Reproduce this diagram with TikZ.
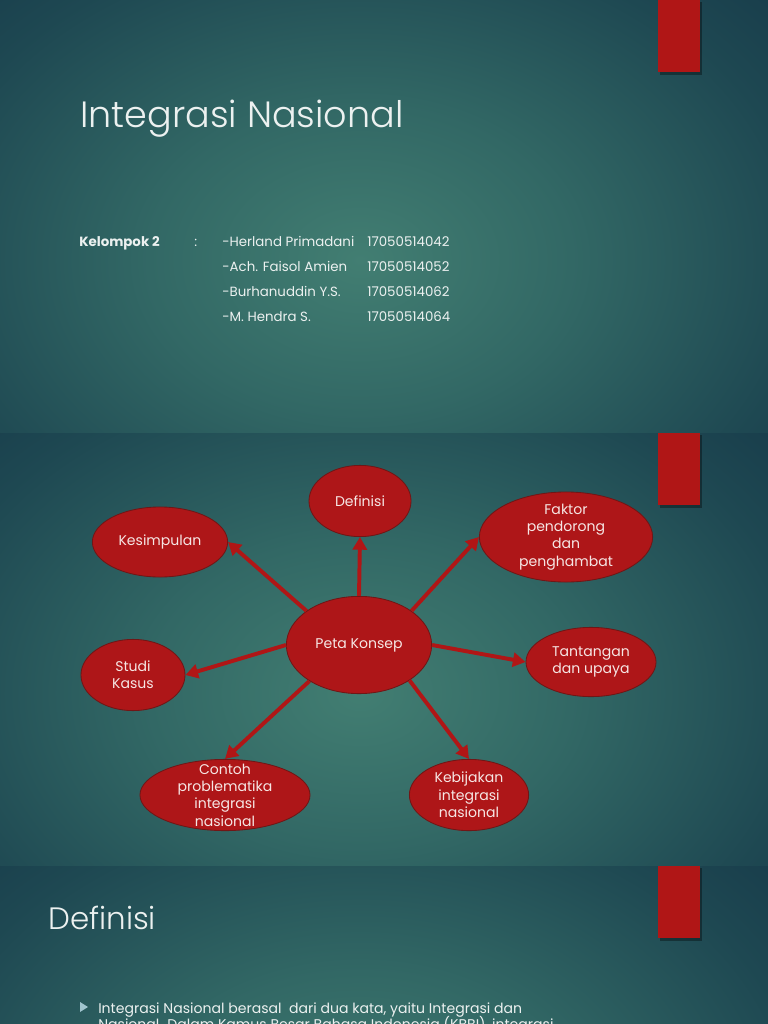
\documentclass[tikz,border=0pt]{standalone}
\usepackage{fontspec}
\setmainfont{Poppins}
\newfontfamily\lightfont{Poppins Light}
\usetikzlibrary{arrows.meta,shapes.geometric}

\definecolor{glowin}{RGB}{66,126,114}
\definecolor{glowa}{RGB}{50,104,101}
\definecolor{glowb}{RGB}{30,72,82}
\definecolor{glowout}{RGB}{19,51,69}
\definecolor{barred}{RGB}{176,22,22}
\definecolor{bubblered}{RGB}{174,22,24}
\definecolor{bubbleedge}{RGB}{112,22,22}
\definecolor{bubbletext}{RGB}{246,230,228}
\definecolor{slidetext}{RGB}{236,241,240}
\definecolor{bulletblue}{RGB}{160,196,206}

\pgfdeclareradialshading{slideglow}{\pgfpointorigin}{color(0bp)=(glowin); color(8bp)=(glowa); color(17bp)=(glowb); color(25bp)=(glowout); color(50bp)=(glowout)}

\begin{document}
\begin{tikzpicture}[x=0.025cm,y=-0.025cm,
  bubble/.style={ellipse,draw=bubbleedge,fill=bubblered,line width=0.6pt,inner sep=0pt},
  inbubble/.style={text=bubbletext,align=center,font=\fontsize{10}{12.3}\selectfont},
  link/.style={draw=barred,line width=2.8pt,-{Triangle[length=9pt,width=10pt]}},
  slidetitle/.style={anchor=base west,text=slidetext,inner sep=0pt},
  slidebody/.style={anchor=base west,text=slidetext,inner sep=0pt,font=\fontsize{9.5}{11}\selectfont}]
  \useasboundingbox (0,0) rectangle (768,1024);
  \clip (0,0) rectangle (768,1024);

  % three slides, one below the other
  \foreach \t in {0,433,866} {
    \fill[glowout] (0,\t) rectangle (768,\t+433);
    \begin{scope}
      \clip (0,\t) rectangle (768,\t+433);
      \shade[shading=slideglow] (360,\t+260) ellipse (660 and 480);
    \end{scope}
    \fill[black,opacity=0.35] (660,\t+2) rectangle (702,\t+75);
    \fill[barred] (658,\t) rectangle (700,\t+72);
  }

  % slide 1
  \node[slidetitle,font=\lightfont\fontsize{26}{30}\selectfont] (judul) at (80,128) {Integrasi Nasional};
  \node[slidebody,font=\bfseries\fontsize{9.5}{11}\selectfont] (kelompok) at (79,246.5) {Kelompok 2};
  \node[slidebody] (titikdua) at (194,246.5) {:};
  \foreach \nama/\nim [count=\i] in {-Herland Primadani/17050514042,
      -Ach. Faisol Amien/17050514052,
      -Burhanuddin Y.S./17050514062,
      -M. Hendra S./17050514064} {
    \node[slidebody] (nama\i) at (222,221.5+25*\i) {\nama};
    \node[slidebody] (nim\i) at (367,221.5+25*\i) {\nim};
  }

  % slide 2: peta konsep
  \node[bubble,minimum width=3.63cm,minimum height=2.43cm,
    label={[inbubble]center:Peta Konsep}] (peta) at (359,645) {};
  \node[bubble,minimum width=2.55cm,minimum height=1.78cm,
    label={[inbubble]center:Definisi}] (definisi) at (360,501) {};
  \node[bubble,minimum width=3.38cm,minimum height=1.75cm,
    label={[inbubble]center:Kesimpulan}] (kesimpulan) at (160,542) {};
  \node[bubble,minimum width=4.33cm,minimum height=2.25cm,
    label={[inbubble]center:{Faktor\\pendorong\\dan\\penghambat}}] (faktor) at (566,537) {};
  \node[bubble,minimum width=3.25cm,minimum height=1.73cm,
    label={[inbubble]center:{Tantangan\\dan upaya}}] (tantangan) at (591,662) {};
  \node[bubble,minimum width=2.6cm,minimum height=1.78cm,
    label={[inbubble]center:{Studi\\Kasus}}] (studi) at (133,675) {};
  \node[bubble,minimum width=4.25cm,minimum height=1.78cm,
    label={[inbubble]center:{Contoh\\problematika\\integrasi\\nasional}}] (contoh) at (225,795) {};
  \node[bubble,minimum width=2.98cm,minimum height=1.78cm,
    label={[inbubble]center:{Kebijakan\\integrasi\\nasional}}] (kebijakan) at (469,795) {};

  \draw[link] (peta.90) -- (definisi.-90);
  \draw[link] (peta.147) -- (kesimpulan.0);
  \draw[link] (peta.33) -- (faktor.180);
  \draw[link] (peta.0) -- (tantangan.180);
  \draw[link] (peta.180) -- (studi.0);
  \draw[link] (peta.216) -- (contoh.90);
  \draw[link] (peta.-35) -- (kebijakan.90);

  % slide 3
  \node[slidetitle,font=\lightfont\fontsize{22}{26}\selectfont] (judul2) at (48,929) {Definisi};
  \fill[bulletblue] (80,1002) -- (88,1007) -- (80,1012) -- cycle;
  \node[slidebody,font=\fontsize{10}{12}\selectfont] (baris1) at (98,1013)
    {Integrasi Nasional berasal\ \ dari dua kata, yaitu Integrasi dan};
  \node[slidebody,font=\fontsize{10}{12}\selectfont] (baris2) at (98,1029)
    {Nasional. Dalam Kamus Besar Bahasa Indonesia (KBBI), integrasi};
\end{tikzpicture}
\end{document}
